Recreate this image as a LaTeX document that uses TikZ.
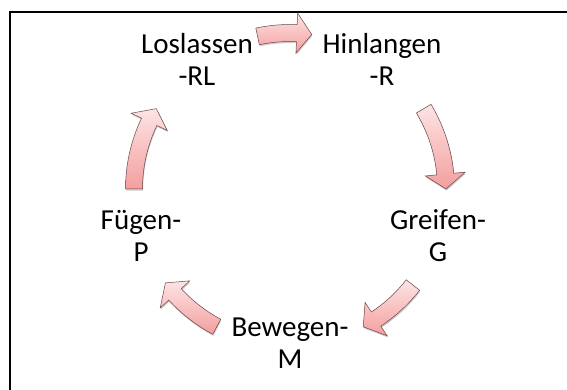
\documentclass[tikz,border=0pt]{standalone}
\usepackage{fontspec}
\setmainfont{Carlito}
\usetikzlibrary{calc,shadows}

\definecolor{arrowlight}{RGB}{253,228,228}
\definecolor{arrowdark}{RGB}{244,158,158}
\definecolor{arrowedge}{RGB}{105,70,70}

% curved block arrow on the cycle: #1 = tail angle, #2 = tip angle (clockwise)
\newcommand\cyclearrow[2]{%
  \pgfmathsetmacro\headang{#2+5.5}%
  \path[cyclearrowstyle]
    ($(c)+(#1:164.5pt)$) arc[start angle=#1, end angle=\headang, radius=164.5pt]
    -- ($(c)+(\headang:176pt)$)
    -- ($(c)+(#2:156pt)$)
    -- ($(c)+(\headang:136pt)$)
    -- ($(c)+(\headang:147.5pt)$)
    arc[start angle=\headang, end angle=#1, radius=147.5pt]
    -- cycle;
}

\tikzset{
  steplabel/.style={font=\fontsize{29}{32}\selectfont, align=center,
    inner sep=0pt, anchor=base},
  cyclearrowstyle/.style={draw=arrowedge, line width=0.5pt,
    top color=arrowlight, bottom color=arrowdark,
    drop shadow={shadow xshift=0.6pt, shadow yshift=-1.6pt, opacity=0.2, fill=black}},
  frame/.style={line width=2pt, draw=black}
}

\begin{document}
\begin{tikzpicture}[x=1pt,y=1pt]
  \useasboundingbox (0,0) rectangle (567,390);
  \fill[white] (0,0) rectangle (567,390);

  % open frame: top and left edges
  \draw[frame] (10,0) -- (10,378) -- (567,378);

  % centre of the cycle
  \coordinate (c) at (290,201);

  % arrows between the steps
  \cyclearrow{102}{82}
  \cyclearrow{31}{0}
  \cyclearrow{-38}{-62}
  \cyclearrow{-118}{-143}
  \cyclearrow{180}{149}

  % steps (anchored at the baseline of the second line)
  \node[steplabel] (los) at (197,304) {Loslassen\\-RL};
  \node[steplabel] (hin) at (382,304) {Hinlangen\\-R};
  \node[steplabel] (gre) at (438,128) {Greifen-\\G};
  \node[steplabel] (bew) at (290,21)  {Bewegen-\\M};
  \node[steplabel] (fue) at (141,128) {Fügen-\\P};
\end{tikzpicture}
\end{document}
